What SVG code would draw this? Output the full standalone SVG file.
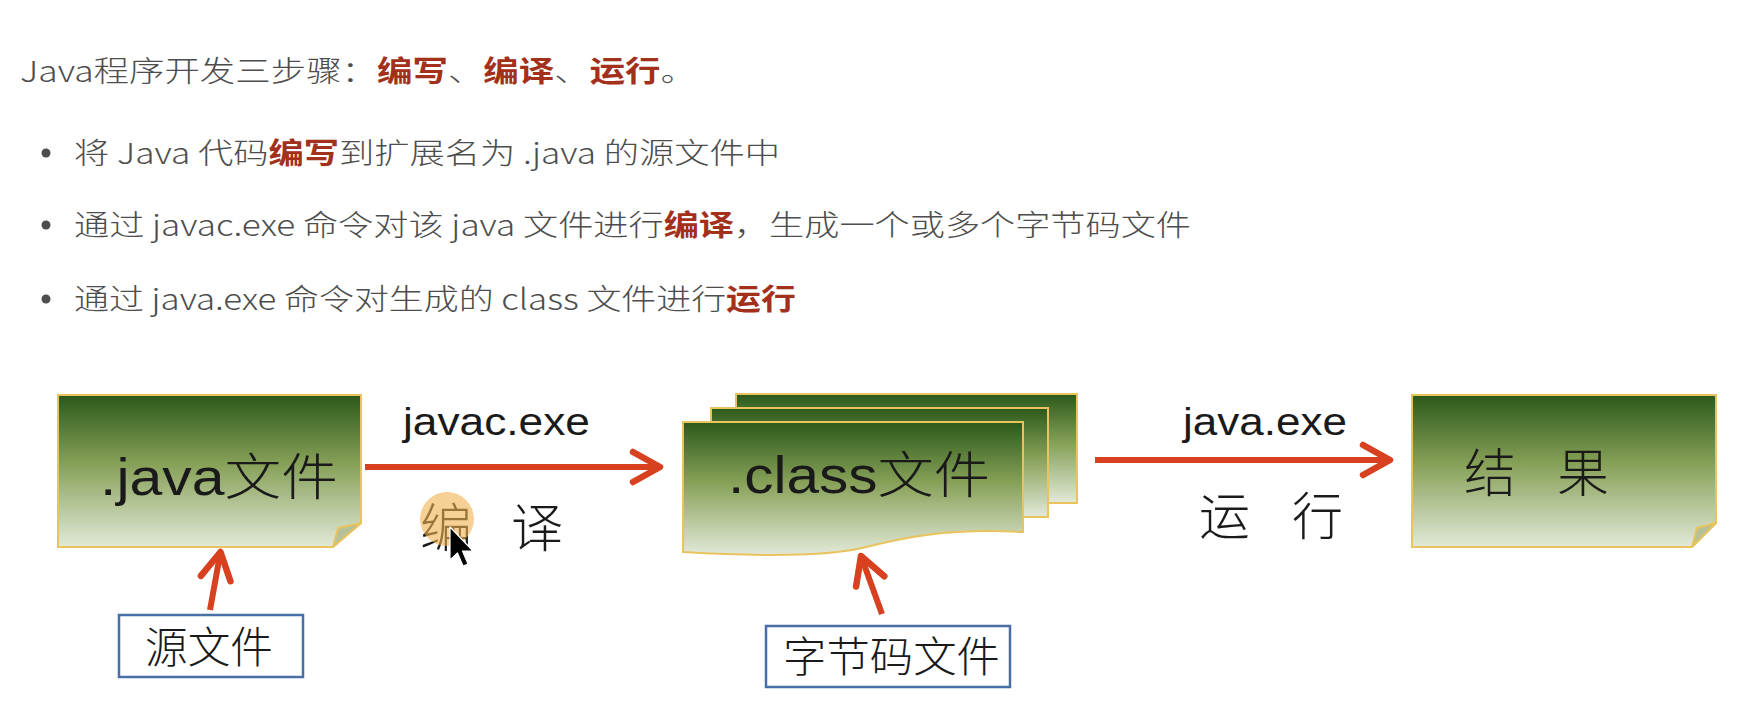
<svg xmlns="http://www.w3.org/2000/svg" width="1748" height="720" viewBox="0 0 1748 720">
<style>
.t{font-family:"Noto Sans CJK SC","Noto Sans",sans-serif;font-size:29px;font-weight:300;fill:#4d4d4d}
.r{fill:#a3301b;font-weight:bold}
.lat{font-family:"Liberation Sans",Arial,sans-serif;font-size:38px;fill:#1a1a1a}
.cj{font-family:"Noto Sans CJK SC",sans-serif;font-weight:300;fill:#1a1a1a}
.box{fill:url(#g);stroke:#e8c35e;stroke-width:2}
.fold{fill:#b7c198;stroke:#e8c35e;stroke-width:2;stroke-linejoin:round}
.lbl{fill:#fff;stroke:#4a6ea6;stroke-width:2.5}
.arr{fill:none;stroke:#d7411f;stroke-width:6;marker-end:url(#chev)}
</style>
<defs>
<linearGradient id="g" x1="0" y1="0" x2="0" y2="1">
<stop offset="0" stop-color="#2b591a"/>
<stop offset="0.45" stop-color="#86a057"/>
<stop offset="1" stop-color="#e2e9d8"/>
</linearGradient>
<marker id="chev" markerUnits="userSpaceOnUse" markerWidth="44" markerHeight="44" viewBox="0 0 44 44" refX="32" refY="22" orient="auto" overflow="visible">
<path d="M5,7 L32,22 L5,37" fill="none" stroke="#d7411f" stroke-width="6.5" stroke-linecap="round" stroke-linejoin="round"/>
</marker>
</defs>
<rect width="1748" height="720" fill="#ffffff"/>

<g id="intro">
<text class="t" x="20" y="82" textLength="676" lengthAdjust="spacingAndGlyphs">Java程序开发三步骤：<tspan class="r">编写</tspan>、<tspan class="r">编译</tspan>、<tspan class="r">运行</tspan>。</text>
<circle cx="46" cy="153" r="4.5" fill="#4d4d4d"/>
<circle cx="46" cy="225" r="4.5" fill="#4d4d4d"/>
<circle cx="46" cy="299" r="4.5" fill="#4d4d4d"/>
<text class="t" x="74" y="164" textLength="706" lengthAdjust="spacingAndGlyphs">将 Java 代码<tspan class="r">编写</tspan>到扩展名为 .java 的源文件中</text>
<text class="t" x="74" y="236" textLength="1117" lengthAdjust="spacingAndGlyphs">通过 javac.exe 命令对该 java 文件进行<tspan class="r">编译</tspan>，生成一个或多个字节码文件</text>
<text class="t" x="74" y="310" textLength="722" lengthAdjust="spacingAndGlyphs">通过 java.exe 命令对生成的 class 文件进行<tspan class="r">运行</tspan></text>
</g>

<g id="java-file">
<path class="box" d="M58,395 H361 V523 L333,547 H58 Z"/>
<path class="fold" d="M361,523 L333,547 L338,528 Z"/>
<text x="100" y="495" textLength="238" lengthAdjust="spacingAndGlyphs"><tspan class="lat" style="font-size:52px">.java</tspan><tspan class="cj" style="font-size:50px">文件</tspan></text>
</g>

<g id="class-file">
<rect class="box" x="736" y="394" width="341" height="109"/>
<rect class="box" x="711" y="408" width="337" height="109"/>
<path class="box" d="M683,422 H1023 V532 C945,528 902,538 862,548 C822,557 752,556 683,552 Z"/>
<text x="728" y="493" textLength="262" lengthAdjust="spacingAndGlyphs"><tspan class="lat" style="font-size:52px">.class</tspan><tspan class="cj" style="font-size:50px">文件</tspan></text>
</g>

<g id="result">
<path class="box" d="M1412,395 H1716 V523 L1692,547 H1412 Z"/>
<path class="fold" d="M1716,523 L1692,547 L1697,528 Z"/>
<text class="cj" x="1464 1557" y="492" style="font-size:52px">结果</text>
</g>

<g id="source-label">
<rect class="lbl" x="119" y="615" width="184" height="62"/>
<text class="cj" x="145" y="663" style="font-size:43px" textLength="128" lengthAdjust="spacingAndGlyphs">源文件</text>
</g>

<g id="bytecode-label">
<rect class="lbl" x="766" y="626" width="244" height="61"/>
<text class="cj" x="783" y="672" style="font-size:42px" textLength="217" lengthAdjust="spacingAndGlyphs">字节码文件</text>
</g>

<g id="connectors">
<line class="arr" x1="365" y1="467" x2="660" y2="467"/>
<line class="arr" x1="1095" y1="460" x2="1390" y2="460"/>
<line class="arr" x1="210" y1="610" x2="220.5" y2="552"/>
<line class="arr" x1="882" y1="614" x2="861" y2="556"/>
<text x="403" y="435" class="lat" textLength="187" lengthAdjust="spacingAndGlyphs">javac.exe</text>
<text x="1183" y="435" class="lat" textLength="164" lengthAdjust="spacingAndGlyphs">java.exe</text>
<text class="cj" x="420 511" y="547" style="font-size:52px">编译</text>
<text class="cj" x="1199 1292" y="535" style="font-size:51px">运行</text>
</g>

<g id="pointer">
<circle cx="447" cy="519" r="27" fill="#f0b04e" opacity="0.6"/>
<path d="M450,527 V560 L457.5,553 L463,566 L468,564 L462.5,551 H473 Z" fill="#000" stroke="#fff" stroke-width="1.2" stroke-linejoin="round"/>
</g>
</svg>
